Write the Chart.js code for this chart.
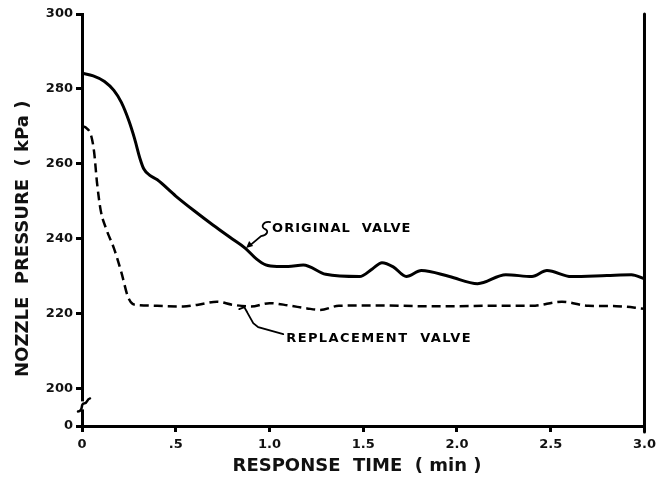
<!DOCTYPE html>
<html>
<head>
<meta charset="utf-8">
<script src="https://cdn.jsdelivr.net/npm/chart.js@4.4.0/dist/chart.umd.min.js"></script>
<style>
	html, body { margin: 0; padding: 0; background: #fff; }
	#wrap { width: 661px; height: 477px; }
</style>
</head>
<body>
<div id="wrap"><canvas id="chart"></canvas></div>
<script>
// response time (min) and nozzle pressure (kPa)
var timeOriginal = [0, 0.06, 0.12, 0.17, 0.21, 0.25, 0.28, 0.31, 0.33, 0.36, 0.4, 0.5, 0.6, 0.7, 0.8, 0.87, 0.93, 0.98, 1.04, 1.1, 1.18, 1.3, 1.48, 1.55, 1.6, 1.66, 1.73, 1.81, 1.96, 2.11, 2.26, 2.4, 2.48, 2.61, 2.8, 2.93, 3.0];
var pressureOriginal = [284.2, 283.5, 282, 279.6, 276.4, 271.5, 266.8, 261.3, 258.6, 257, 255.8, 251.4, 247.4, 243.6, 240, 237.5, 234.6, 233, 232.6, 232.6, 233, 230.5, 229.9, 232, 233.6, 232.5, 229.9, 231.5, 229.9, 228, 230.4, 229.9, 231.5, 229.9, 230.2, 230.4, 229.3];

var timeReplacement = [0, 0.02, 0.05, 0.065, 0.08, 0.1, 0.13, 0.17, 0.21, 0.245, 0.27, 0.3, 0.4, 0.54, 0.62, 0.72, 0.8, 0.9, 1.0, 1.1, 1.2, 1.27, 1.37, 1.6, 1.8, 2.0, 2.2, 2.4, 2.56, 2.7, 2.85, 3.0];
var pressureReplacement = [270, 269.7, 267.3, 263, 255, 247.5, 242.5, 237.5, 231, 224.5, 222.6, 222.3, 222.1, 221.9, 222.4, 223.2, 222.4, 221.9, 222.8, 222.2, 221.4, 221, 222.1, 222.2, 222, 222, 222.1, 222.1, 223.2, 222.1, 222, 221.3];

// axis ticks (the "0" sits just under the break, drawn at 190)
var xTickValues = [0, 0.5, 1.0, 1.5, 2.0, 2.5, 3.0];
var xTickLabels = ["0", ".5", "1.0", "1.5", "2.0", "2.5", "3.0"];
var yTickValues = [190, 200, 220, 240, 260, 280, 300];
var yTickLabels = ["0", "200", "220", "240", "260", "280", "300"];

function toPoints(xs, ys) {
	return xs.map(function(x, i) { return { x: x, y: ys[i] }; });
}

// right frame line, axis break and the two curve callouts
var extras = {
	id: "extras",
	afterDraw: function(chart) {
		var ctx = chart.ctx;
		var area = chart.chartArea;
		var sx = chart.scales.x;
		var sy = chart.scales.y;
		ctx.save();
		ctx.strokeStyle = "#000";
		ctx.fillStyle = "#000";
		ctx.lineCap = "round";

		// right border
		ctx.lineWidth = 3;
		ctx.beginPath();
		ctx.moveTo(area.right, area.top);
		ctx.lineTo(area.right, area.bottom + 6);
		ctx.stroke();

		// axis break
		var by = sy.getPixelForValue(195.5);
		ctx.fillStyle = "#fff";
		ctx.fillRect(area.left - 3, by - 4, 6, 8);
		ctx.fillStyle = "#000";
		ctx.lineWidth = 2.5;
		ctx.beginPath();
		ctx.moveTo(area.left - 4, by + 6);
		ctx.bezierCurveTo(area.left + 2, by + 6, area.left - 2, by - 2, area.left + 2, by - 2);
		ctx.bezierCurveTo(area.left + 6, by - 2, area.left + 4, by - 6, area.left + 8, by - 7);
		ctx.stroke();

		ctx.font = "bold 13px 'DejaVu Sans'";
		ctx.textBaseline = "alphabetic";
		ctx.textAlign = "left";
		var spacing = "letterSpacing" in ctx;

		// ORIGINAL VALVE
		if (spacing) ctx.letterSpacing = "1px";
		var tx = sx.getPixelForValue(0.87);
		var ty = sy.getPixelForValue(237.5);
		ctx.fillText("ORIGINAL  VALVE", tx + 27, ty - 16);
		ctx.lineWidth = 1.8;
		ctx.beginPath();
		ctx.moveTo(tx + 25, ty - 26);
		ctx.bezierCurveTo(tx + 18, ty - 27, tx + 15, ty - 21, tx + 20, ty - 19);
		ctx.bezierCurveTo(tx + 24, ty - 17, tx + 22, ty - 13, tx + 16, ty - 12);
		ctx.lineTo(tx + 4, ty - 2);
		ctx.stroke();
		ctx.beginPath();
		ctx.moveTo(tx + 1, ty);
		ctx.lineTo(tx + 8, ty - 2);
		ctx.lineTo(tx + 4, ty - 7);
		ctx.closePath();
		ctx.fill();

		// REPLACEMENT VALVE
		if (spacing) ctx.letterSpacing = "1.4px";
		tx = sx.getPixelForValue(0.86);
		ty = sy.getPixelForValue(222);
		ctx.fillText("REPLACEMENT  VALVE", tx + 43, ty + 36);
		ctx.beginPath();
		ctx.moveTo(tx + 40, ty + 28);
		ctx.lineTo(tx + 15, ty + 21);
		ctx.lineTo(tx + 10, ty + 17);
		ctx.lineTo(tx + 1, ty + 1);
		ctx.moveTo(tx - 4, ty + 3);
		ctx.lineTo(tx + 1, ty + 1);
		ctx.lineTo(tx + 4, ty + 6);
		ctx.stroke();

		ctx.restore();
	}
};

var tickFont = { family: "'DejaVu Sans'", size: 13, weight: "bold" };
var titleFont = { family: "'DejaVu Sans'", size: 18, weight: "bold" };

new Chart(document.getElementById("chart"), {
	type: "line",
	data: {
		datasets: [ {
			label: "Original valve",
			data: toPoints(timeOriginal, pressureOriginal),
			borderColor: "#000",
			borderWidth: 3,
			pointRadius: 0,
			fill: false,
			cubicInterpolationMode: "monotone"
		}, {
			label: "Replacement valve",
			data: toPoints(timeReplacement, pressureReplacement),
			borderColor: "#000",
			borderWidth: 2.5,
			borderDash: [9, 5],
			pointRadius: 0,
			fill: false,
			cubicInterpolationMode: "monotone"
		} ]
	},
	options: {
		responsive: true,
		maintainAspectRatio: false,
		animation: false,
		layout: { padding: { top: 14, right: 14, bottom: 0, left: 0 } },
		plugins: {
			legend: { display: false },
			tooltip: { enabled: false }
		},
		scales: {
			x: {
				type: "linear",
				min: 0,
				max: 3,
				afterBuildTicks: function(axis) {
					axis.ticks = xTickValues.map(function(v) { return { value: v }; });
				},
				afterFit: function(axis) { axis.height = 51; },
				ticks: {
					autoSkip: false,
					maxRotation: 0,
					padding: 5,
					color: "#111",
					font: tickFont,
					callback: function(v) { return xTickLabels[xTickValues.indexOf(v)]; }
				},
				grid: { drawOnChartArea: false, drawTicks: true, tickLength: 6, tickWidth: 3, tickColor: "#000" },
				border: { display: true, color: "#000", width: 3 },
				title: { display: true, text: "RESPONSE  TIME  ( min )  ", color: "#111", font: titleFont, padding: { top: 0, bottom: 0 } }
			},
			y: {
				type: "linear",
				min: 190,
				max: 300,
				afterBuildTicks: function(axis) {
					axis.ticks = yTickValues.map(function(v) { return { value: v }; });
				},
				afterFit: function(axis) { axis.width = 82; },
				ticks: {
					autoSkip: false,
					padding: 3,
					color: "#111",
					font: tickFont,
					callback: function(v) { return yTickLabels[yTickValues.indexOf(v)]; }
				},
				grid: { drawOnChartArea: false, drawTicks: true, tickLength: 6, tickWidth: 3, tickColor: "#000" },
				border: { display: true, color: "#000", width: 3 },
				title: { display: true, text: "NOZZLE  PRESSURE  ( kPa )      ", color: "#111", font: titleFont, padding: { top: 13, bottom: 0 } }
			}
		}
	},
	plugins: [ extras ]
});
</script>
</body>
</html>
